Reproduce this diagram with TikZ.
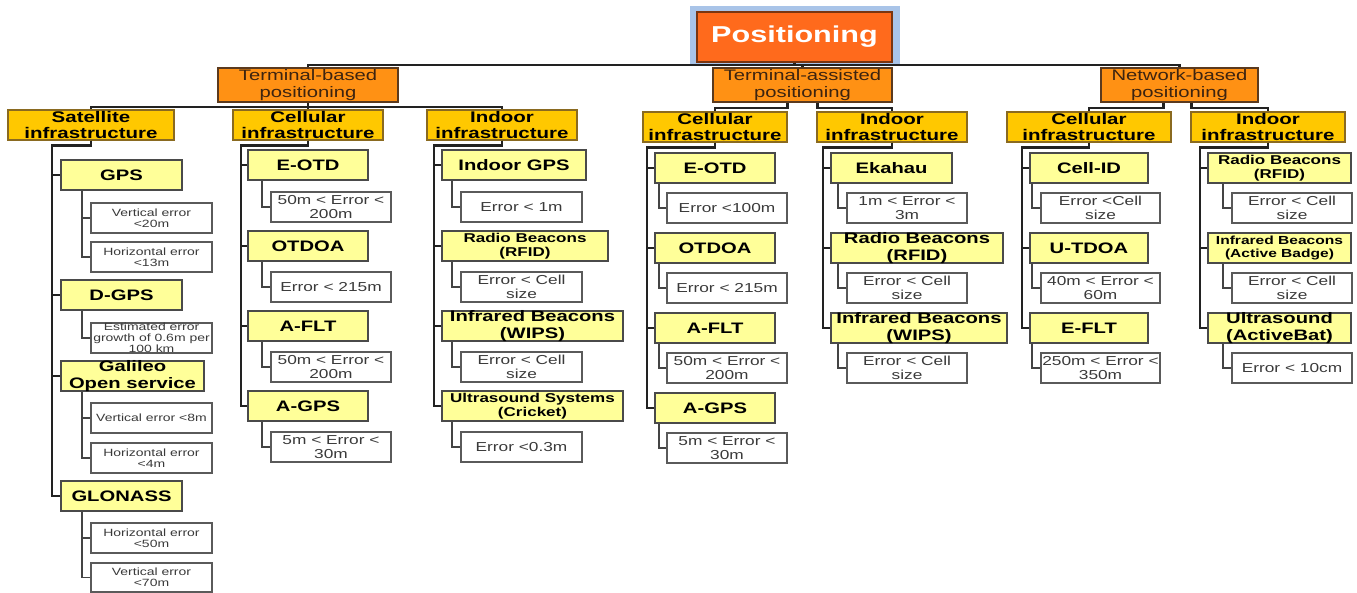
\documentclass[tikz,border=0pt]{standalone}
\usepackage{fontspec}
\newfontfamily\nodefont[FakeStretch=1.33]{Liberation Sans}
\usetikzlibrary{backgrounds}
\definecolor{rootfill}{HTML}{FF6A1C}
\definecolor{rootline}{HTML}{7A3510}
\definecolor{frameblue}{HTML}{A9C4E8}
\definecolor{ttwofill}{HTML}{FF9114}
\definecolor{ttwoline}{HTML}{5B3A1E}
\definecolor{ttwotext}{HTML}{3D2410}
\definecolor{tthreefill}{HTML}{FFC800}
\definecolor{tthreeline}{HTML}{8A6A20}
\definecolor{tfourfill}{HTML}{FFFF99}
\definecolor{tfourline}{HTML}{4A4A4A}
\definecolor{leafline}{HTML}{5A5A5A}
\definecolor{leaftext}{HTML}{3A3A3A}
\definecolor{linecol}{HTML}{222222}
\definecolor{leafcol}{HTML}{444444}
\newcommand\mybox[7]{\node[#2, minimum width={(#5)-(#3)}, minimum height={(#6)-(#4)}] (#1) at ({((#3)+(#5))/2},{((#4)+(#6))/2}) {#7};}
\newcommand\kid[3]{\draw[conn] (#1.south) -- ++(0,5) -| ([xshift=-#3pt]#2.west) -- (#2.west);}
\newcommand\leafc[3]{\draw[leafconn] ([xshift=#3pt]#1.south west) |- (#2.west);}
\tikzset{
  base/.style={draw, align=center, inner sep=0pt},
  rootbox/.style={base, fill=rootfill, draw=rootline, line width=1.5pt, text=white, font={\nodefont\bfseries\fontsize{23}{25}\selectfont}},
  tiertwo/.style={base, fill=ttwofill, draw=ttwoline, line width=2pt, text=ttwotext, font={\nodefont\fontsize{15.2}{16.3}\selectfont}},
  tierthree/.style={base, fill=tthreefill, draw=tthreeline, line width=1.2pt, font={\nodefont\bfseries\fontsize{15.4}{16.3}\selectfont}},
  tierfour/.style={base, fill=tfourfill, draw=tfourline, line width=1.5pt, font={\nodefont\bfseries\fontsize{15.2}{16.3}\selectfont}},
  smallfour/.style={tierfour, font={\nodefont\bfseries\fontsize{12.8}{13.8}\selectfont}},
  tinyfour/.style={tierfour, font={\nodefont\bfseries\fontsize{11.7}{13}\selectfont}},
  leaf/.style={base, fill=white, draw=leafline, line width=1.3pt, text=leaftext, font={\nodefont\fontsize{13}{14}\selectfont}},
  sleaf/.style={leaf, font={\nodefont\fontsize{10.5}{11}\selectfont}},
  conn/.style={draw=linecol, line width=2.2pt},
  leafconn/.style={draw=leafcol, line width=1.8pt}
}
\begin{document}
\begin{tikzpicture}[x=1pt,y=-1pt]
\begin{scope}[on background layer]
\fill[white] (0,0) rectangle (1357,593);
\end{scope}
\useasboundingbox (0,0) rectangle (1357,593);
% level 1 and 2
\mybox{root}{rootbox}{697}{12}{892}{62}{Positioning}
\begin{scope}[on background layer]
\fill[frameblue] ([shift={(-6pt,5pt)}]root.north west) rectangle ([shift={(7pt,-3pt)}]root.south east);
\end{scope}
\mybox{TB}{tiertwo}{218}{68}{398}{102}{Terminal-based\\positioning}
\mybox{TA}{tiertwo}{713}{68}{892}{102}{Terminal-assisted\\positioning}
\mybox{NB}{tiertwo}{1101}{68}{1258}{102}{Network-based\\positioning}
% level 3
\mybox{sat}{tierthree}{8}{110}{174}{140}{Satellite\\infrastructure}
\mybox{tbc}{tierthree}{233}{110}{383}{140}{Cellular\\infrastructure}
\mybox{tbi}{tierthree}{427}{110}{577}{140}{Indoor\\infrastructure}
\mybox{tac}{tierthree}{643}{112}{787}{142}{Cellular\\infrastructure}
\mybox{tai}{tierthree}{817}{112}{967}{142}{Indoor\\infrastructure}
\mybox{nbc}{tierthree}{1007}{112}{1171}{142}{Cellular\\infrastructure}
\mybox{nbi}{tierthree}{1191}{112}{1345}{142}{Indoor\\infrastructure}
% satellite column
\mybox{gps}{tierfour}{61}{160}{182}{190}{GPS}
\mybox{dgps}{tierfour}{61}{280}{182}{310}{D-GPS}
\mybox{gal}{tierfour}{61}{361}{204}{391}{Galileo\\Open service}
\mybox{glo}{tierfour}{61}{481}{182}{511}{GLONASS}
\mybox{sa}{sleaf}{91}{203}{212}{233}{Vertical error\\<20m}
\mybox{sb}{sleaf}{91}{242}{212}{272}{Horizontal error\\<13m}
\mybox{sc}{sleaf}{91}{323}{212}{353}{Estimated error\\growth of 0.6m per\\100 km}
\mybox{sd}{sleaf}{91}{403}{212}{433}{Vertical error <8m}
\mybox{se}{sleaf}{91}{443}{212}{473}{Horizontal error\\<4m}
\mybox{sf}{sleaf}{91}{523}{212}{553}{Horizontal error\\<50m}
\mybox{sg}{sleaf}{91}{563}{212}{592}{Vertical error\\<70m}
% terminal-based cellular
\mybox{ca}{tierfour}{248}{150}{368}{180}{E-OTD}
\mybox{cb}{tierfour}{248}{231}{368}{261}{OTDOA}
\mybox{cc}{tierfour}{248}{311}{368}{341}{A-FLT}
\mybox{cd}{tierfour}{248}{391}{368}{421}{A-GPS}
\mybox{la}{leaf}{271}{192}{391}{222}{50m < Error <\\200m}
\mybox{lb}{leaf}{271}{272}{391}{302}{Error < 215m}
\mybox{lc}{leaf}{271}{352}{391}{382}{50m < Error <\\200m}
\mybox{ld}{leaf}{271}{432}{391}{462}{5m < Error <\\30m}
% terminal-based indoor
\mybox{ia}{tierfour}{442}{150}{586}{180}{Indoor GPS}
\mybox{ib}{smallfour}{442}{231}{608}{261}{Radio Beacons\\(RFID)}
\mybox{ic}{tierfour}{442}{311}{623}{341}{Infrared Beacons\\(WIPS)}
\mybox{id}{smallfour}{442}{391}{623}{421}{Ultrasound Systems\\(Cricket)}
\mybox{ma}{leaf}{461}{192}{582}{222}{Error < 1m}
\mybox{mb}{leaf}{461}{272}{582}{302}{Error < Cell\\size}
\mybox{mc}{leaf}{461}{352}{582}{382}{Error < Cell\\size}
\mybox{md}{leaf}{461}{432}{582}{462}{Error <0.3m}
% terminal-assisted cellular
\mybox{pa}{tierfour}{655}{153}{775}{183}{E-OTD}
\mybox{pb}{tierfour}{655}{233}{775}{263}{OTDOA}
\mybox{pc}{tierfour}{655}{313}{775}{343}{A-FLT}
\mybox{pd}{tierfour}{655}{393}{775}{423}{A-GPS}
\mybox{qa}{leaf}{667}{193}{787}{223}{Error <100m}
\mybox{qb}{leaf}{667}{273}{787}{303}{Error < 215m}
\mybox{qc}{leaf}{667}{353}{787}{383}{50m < Error <\\200m}
\mybox{qd}{leaf}{667}{433}{787}{463}{5m < Error <\\30m}
% terminal-assisted indoor
\mybox{ra}{tierfour}{831}{153}{952}{183}{Ekahau}
\mybox{rb}{tierfour}{831}{233}{1003}{263}{Radio Beacons\\(RFID)}
\mybox{rc}{tierfour}{831}{313}{1007}{343}{Infrared Beacons\\(WIPS)}
\mybox{ta}{leaf}{847}{193}{967}{223}{1m < Error <\\3m}
\mybox{tb}{leaf}{847}{273}{967}{303}{Error < Cell\\size}
\mybox{tc}{leaf}{847}{353}{967}{383}{Error < Cell\\size}
% network-based cellular
\mybox{ua}{tierfour}{1030}{153}{1148}{183}{Cell-ID}
\mybox{ub}{tierfour}{1030}{233}{1148}{263}{U-TDOA}
\mybox{uc}{tierfour}{1030}{313}{1148}{343}{E-FLT}
\mybox{va}{leaf}{1041}{193}{1160}{223}{Error <Cell\\size}
\mybox{vb}{leaf}{1041}{273}{1160}{303}{40m < Error <\\60m}
\mybox{vc}{leaf}{1041}{353}{1160}{383}{250m < Error <\\350m}
% network-based indoor
\mybox{wa}{smallfour}{1208}{153}{1351}{183}{Radio Beacons\\(RFID)}
\mybox{wb}{tinyfour}{1208}{233}{1351}{263}{Infrared Beacons\\(Active Badge)}
\mybox{wc}{tierfour}{1208}{313}{1351}{343}{Ultrasound\\(ActiveBat)}
\mybox{xa}{leaf}{1232}{193}{1352}{223}{Error < Cell\\size}
\mybox{xb}{leaf}{1232}{273}{1352}{303}{Error < Cell\\size}
\mybox{xc}{leaf}{1232}{353}{1352}{383}{Error < 10cm}
% connectors level 1-2
\draw[conn] (root.south) -- ++(0,2) -| (TB.north);
\draw[conn] (root.south) -- ++(0,2) -| (NB.north);
\draw[conn] (root.south) -- ++(0,2) -| (TA.north);
% level 2-3
\draw[conn] (TB.south) -- ++(0,4) -| (sat.north);
\draw[conn] (TB.south) -- (tbc.north);
\draw[conn] (TB.south) -- ++(0,4) -| (tbi.north);
\draw[conn] ([xshift=-15pt]TA.south) -- ++(0,5) -| (tac.north);
\draw[conn] ([xshift=15pt]TA.south) -- ++(0,5) -| (tai.north);
\draw[conn] ([xshift=-16pt]NB.south) -- ++(0,5) -| (nbc.north);
\draw[conn] ([xshift=12pt]NB.south) -- ++(0,5) -| (nbi.north);
% level 3-4
\foreach \c in {gps,dgps,gal,glo} {\kid{sat}{\c}{8}}
\foreach \c in {ca,cb,cc,cd} {\kid{tbc}{\c}{6}}
\foreach \c in {ia,ib,ic,id} {\kid{tbi}{\c}{7}}
\foreach \c in {pa,pb,pc,pd} {\kid{tac}{\c}{7}}
\foreach \c in {ra,rb,rc} {\kid{tai}{\c}{7}}
\foreach \c in {ua,ub,uc} {\kid{nbc}{\c}{7}}
\foreach \c in {wa,wb,wc} {\kid{nbi}{\c}{7}}
% level 4-5
\leafc{gps}{sa}{22} \leafc{gps}{sb}{22}
\leafc{dgps}{sc}{22}
\leafc{gal}{sd}{22} \leafc{gal}{se}{22}
\leafc{glo}{sf}{22} \leafc{glo}{sg}{22}
\leafc{ca}{la}{15} \leafc{cb}{lb}{15} \leafc{cc}{lc}{15} \leafc{cd}{ld}{15}
\leafc{ia}{ma}{11} \leafc{ib}{mb}{11} \leafc{ic}{mc}{11} \leafc{id}{md}{11}
\leafc{pa}{qa}{5} \leafc{pb}{qb}{5} \leafc{pc}{qc}{5} \leafc{pd}{qd}{5}
\leafc{ra}{ta}{8} \leafc{rb}{tb}{8} \leafc{rc}{tc}{8}
\leafc{ua}{va}{3} \leafc{ub}{vb}{3} \leafc{uc}{vc}{3}
\leafc{wa}{xa}{16} \leafc{wb}{xb}{16} \leafc{wc}{xc}{16}
\end{tikzpicture}
\end{document}
